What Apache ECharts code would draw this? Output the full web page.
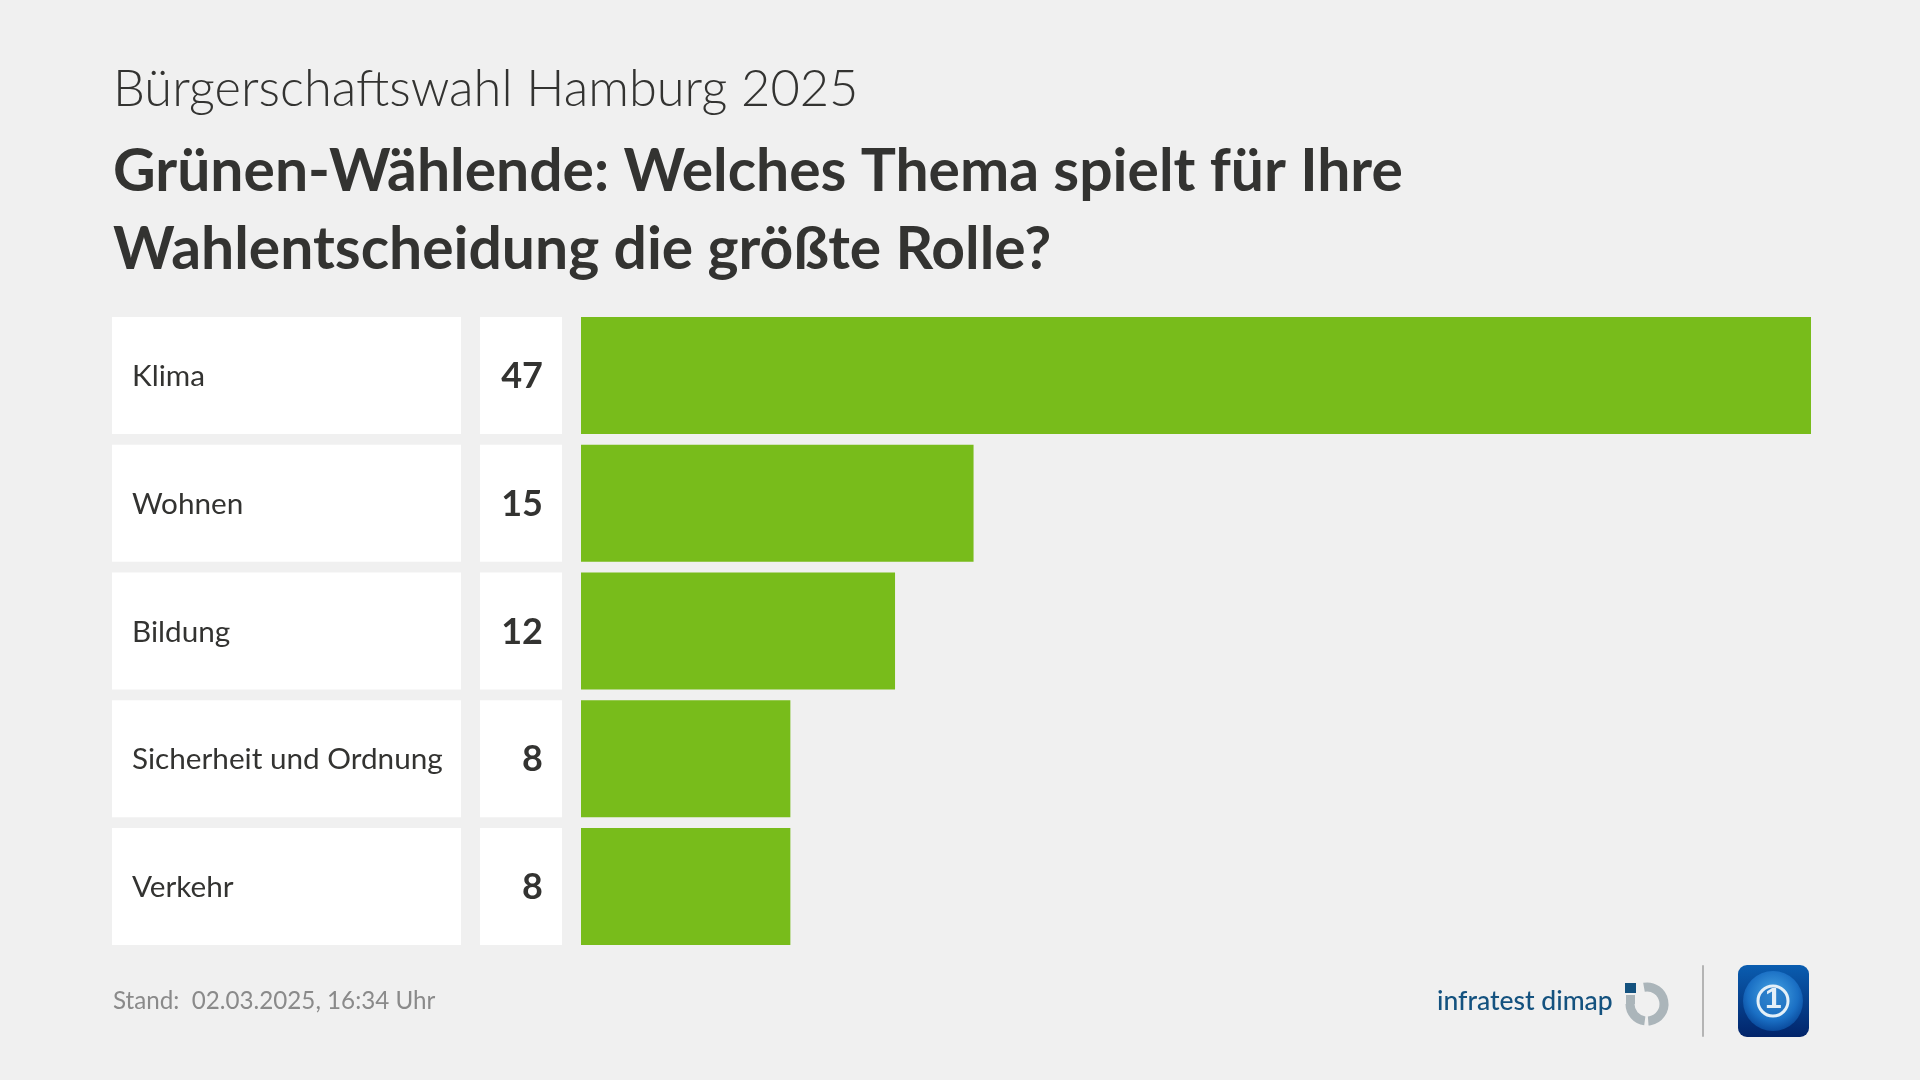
<!DOCTYPE html>
<html>
<head>
<meta charset="utf-8">
<style>
  html, body { margin: 0; padding: 0; background: #f0f0f0; }
  #chart { width: 1920px; height: 1080px; }
</style>
<script src="https://cdn.jsdelivr.net/npm/echarts@6/dist/echarts.min.js"></script>
</head>
<body>
<div id="chart"></div>
<script>
const categories = ['Klima', 'Wohnen', 'Bildung', 'Sicherheit und Ordnung', 'Verkehr']
const values = [47, 15, 12, 8, 8]
const overline = 'Bürgerschaftswahl Hamburg 2025'
const headline = 'Grünen-Wählende: Welches Thema spielt für Ihre\nWahlentscheidung die größte Rolle?'
const standText = 'Stand:  02.03.2025, 16:34 Uhr'
const instituteName = 'infratest dimap'

const FONT = 'Lato'
const TEXT_COLOR = '#333331'
const BAR_COLOR = '#78bc1b'

const chart = echarts.init(document.getElementById('chart'))

// white table cells are just the axis labels with a background
const cellLabel = (width, align, weight, size, padding) => ({
  show: true,
  width: width,
  height: 115,
  lineHeight: 115,
  padding: padding,
  align: 'right',
  verticalAlign: 'middle',
  backgroundColor: '#ffffff',
  color: TEXT_COLOR,
  fontFamily: FONT,
  fontWeight: weight,
  fontSize: size,
  rich: {
    t: { width: width, align: align, fontFamily: FONT, fontWeight: weight, fontSize: size, color: TEXT_COLOR },
  },
  formatter: (v) => `{t|${v}}`,
})

chart.setOption({
  animation: false,
  backgroundColor: '#f0f0f0',
  title: [
    { text: overline, left: 108, top: 59, textStyle: { fontFamily: FONT, fontWeight: 300, fontSize: 50.6, color: TEXT_COLOR } },
    { text: headline, left: 108, top: 128, textStyle: { fontFamily: FONT, fontWeight: 700, fontSize: 58.8, lineHeight: 78, color: TEXT_COLOR } },
    { text: standText, left: 108, top: 984, textStyle: { fontFamily: FONT, fontWeight: 400, fontSize: 24.2, color: '#8a8a8a' } },
  ],
  grid: { left: 581, top: 311.6, width: 1230, height: 638.75 },
  xAxis: { type: 'value', min: 0, max: 47, show: false },
  yAxis: [
    {
      type: 'category',
      inverse: true,
      data: values.map(String),
      position: 'left',
      axisLine: { show: false },
      axisTick: { show: false },
      axisLabel: { ...cellLabel(63, 'right', 700, 36, [2, 19, 0, 0]), margin: 19 },
    },
    {
      type: 'category',
      inverse: true,
      data: categories,
      position: 'left',
      offset: 120,
      axisLine: { show: false },
      axisTick: { show: false },
      axisLabel: { ...cellLabel(329, 'left', 400, 29.7, [2, 0, 0, 20]), margin: 0 },
    },
  ],
  series: [
    {
      type: 'bar',
      data: values,
      barWidth: 117,
      itemStyle: { color: BAR_COLOR },
      silent: true,
    },
  ],
  graphic: [
    { type: 'text', left: 1437, top: 988, style: { text: instituteName, fontFamily: FONT, fontWeight: 500, fontSize: 26.5, fill: '#14527f' } },
    { type: 'rect', shape: { x: 1625, y: 983, width: 11, height: 10 }, style: { fill: '#14527f' } },
    { type: 'arc', shape: { cx: 1647, cy: 1004, r: 17, startAngle: -1.75, endAngle: 1.5, clockwise: true }, style: { stroke: '#abb5ba', lineWidth: 9, fill: null } },
    { type: 'arc', shape: { cx: 1647, cy: 1004, r: 17, startAngle: 1.7, endAngle: 3.14, clockwise: true }, style: { stroke: '#abb5ba', lineWidth: 9, fill: null } },
    { type: 'rect', shape: { x: 1626, y: 995, width: 9, height: 9 }, style: { fill: '#abb5ba' } },
    { type: 'rect', shape: { x: 1702, y: 965, width: 2, height: 72, r: 1 }, style: { fill: '#b4b4b4' } },
    {
      type: 'rect',
      shape: { x: 1738, y: 965, width: 71, height: 72, r: 9 },
      style: {
        fill: new echarts.graphic.LinearGradient(0, 0, 0, 1, [
          { offset: 0, color: '#0a5db0' },
          { offset: 1, color: '#02246a' },
        ]),
      },
    },
    {
      type: 'circle',
      shape: { cx: 1773, cy: 1001, r: 30 },
      style: {
        fill: new echarts.graphic.RadialGradient(0.5, 0.4, 0.6, [
          { offset: 0, color: '#4aa8e6' },
          { offset: 0.7, color: '#1a6fc4' },
          { offset: 1, color: '#0a4a9c' },
        ]),
      },
    },
    { type: 'circle', shape: { cx: 1773, cy: 1001, r: 15 }, style: { fill: 'rgba(30,110,190,0.6)', stroke: '#e4f0f8', lineWidth: 3 } },
    { type: 'text', left: 1765, top: 985, style: { text: '1', fontFamily: 'Liberation Sans', fontWeight: 700, fontSize: 30, fill: '#e4f0f8' } },
  ],
})
</script>
</body>
</html>
